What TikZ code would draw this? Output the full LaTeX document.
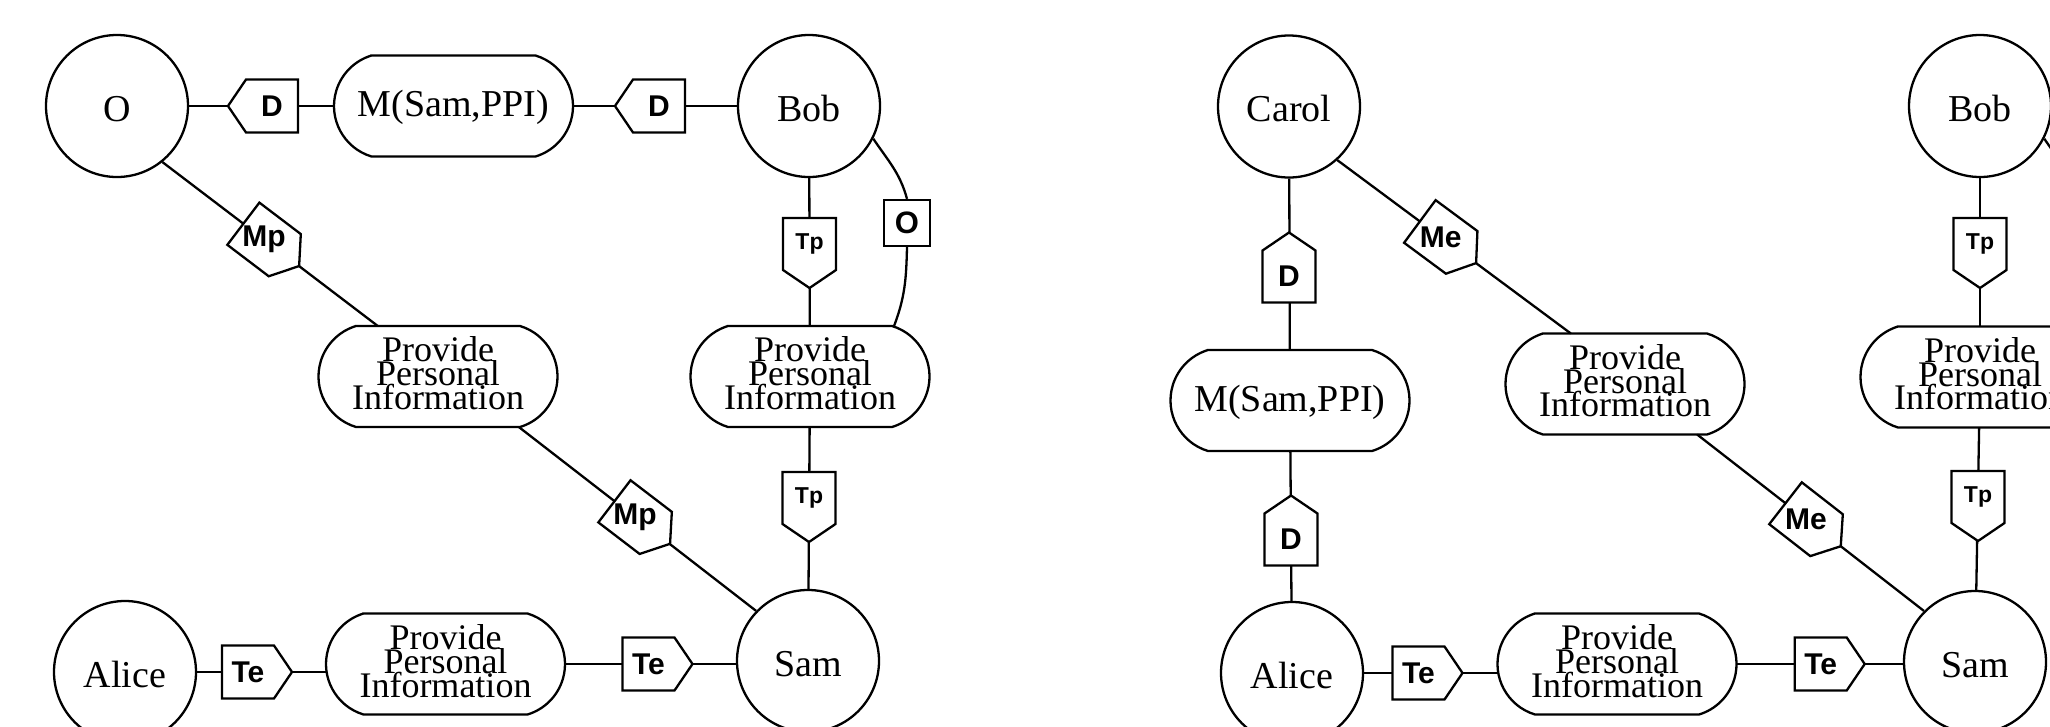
\documentclass[tikz,border=0pt]{standalone}
\usepackage{fontspec}
\setmainfont{Liberation Serif}
\setsansfont{Liberation Sans}
\usetikzlibrary{calc}
\setlength{\lineskiplimit}{-100pt}
\newcommand\tpfont{\fontsize{23}{23}\selectfont}
\tikzset{
  lw/.style={line width=2.3pt},
  conn/.style={lw},
  actor/.style={circle, draw, lw, minimum size=142pt, inner sep=0pt,
    text height=30pt, text depth=0pt, font=\fontsize{38}{40}\selectfont},
  pbox/.style={rectangle, minimum width=239pt, minimum height=101pt,
    inner sep=0pt, outer sep=0pt, align=center},
  ptext/.style={pbox, font=\fontsize{36}{23.8}\selectfont, text depth=6.6pt},
  mtext/.style={pbox, font=\fontsize{38}{40}\selectfont, text height=30pt, text depth=8.2pt},
  boxline/.style={lw},
  tagline/.style={lw, fill=white, line join=miter},
  taglabel/.style={inner sep=0pt, font=\sffamily\bfseries\fontsize{30}{30}\selectfont},
  osq/.style={rectangle, draw, lw, fill=white, minimum size=46pt, inner sep=0pt,
    font=\sffamily\bfseries\fontsize{31}{31}\selectfont},
}
% tag: [angle]{name}{position}{text}
\newcommand\tagnode[4][0]{%
  \draw[tagline, shift={#3}, rotate=#1] (-26,-26.5) -- (26,-26.5) -- (44,0)
    -- (26,26.5) -- (-26,26.5) -- cycle;
  \node[taglabel] (#2) at #3 {#4};
}
\newcommand\boxoutline[1]{%
  \draw[boxline] ($(#1.north west)+(37.5,0)$) -- ($(#1.north east)+(-37.5,0)$)
    arc[start angle=73.2, end angle=-73.2, radius=52.75pt]
    -- ($(#1.south west)+(37.5,0)$)
    arc[start angle=253.2, end angle=106.8, radius=52.75pt] -- cycle;}

\begin{document}
\begin{tikzpicture}[x=1pt, y=1pt]
\useasboundingbox (0,0) rectangle (2050,-726);
\clip (0,0) rectangle (2050,-726);

% ---------------- left panel ----------------
\node[actor] (O) at (117,-106) {O};
\node[mtext] (M) at (453.5,-106) {M(Sam,PPI)};
\node[actor] (Bob) at (809,-106) {Bob};
\node[ptext] (PL) at (438,-376.5) {Provide\\Personal\\Information};
\node[ptext] (PR) at (810,-376.5) {Provide\\Personal\\Information};
\node[actor] (Alice) at (125,-672) {Alice};
\node[ptext] (PB) at (445.5,-664) {Provide\\Personal\\Information};
\node[actor] (Sam) at (808,-661) {Sam};
\node[osq] (Osq) at (907,-223) {O};
\boxoutline{M}
\boxoutline{PL}
\boxoutline{PR}
\boxoutline{PB}

\draw[conn] (O) -- (M);
\draw[conn] (M) -- (Bob);
\draw[conn] (O.-51.3) -- (PL.140.6);
\draw[conn] (PL.-32.6) -- (Sam.136.6);
\draw[conn] (Bob) -- (PR);
\draw[conn] (PR) -- (Sam);
\draw[conn] (Bob.-27) to[out=-56, in=105.2] (Osq.north);
\draw[conn] (Osq.south) to[out=-91.4, in=69.2] (PR.31.7);
\draw[conn] (Alice) -- (PB.west |- Alice);
\draw[conn] (PB) -- (Sam.west |- PB);

\tagnode[180]{D1}{(272,-106)}{D}
\tagnode[180]{D2}{(659,-106)}{D}
\tagnode[-90]{Tp1}{(809.5,-244)}{\tpfont Tp}
\tagnode[-90]{Tp2}{(809,-498)}{\tpfont Tp}
\tagnode[-37.2]{Mp1}{($(O.-51.3)!0.472!(PL.140.6)$)}{Mp}
\tagnode[-37.4]{Mp2}{($(PL.-32.6)!0.49!(Sam.136.6)$)}{Mp}
\tagnode[0]{Te1}{(248,-672)}{Te}
\tagnode[0]{Te2}{(648.5,-664)}{Te}

% ---------------- right panel ----------------
\node[actor] (Carol) at (1289,-106.5) {Carol};
\node[mtext] (M2) at (1290,-400.5) {M(Sam,PPI)};
\node[actor] (Alice2) at (1292,-673) {Alice};
\node[ptext] (PM2) at (1625,-384) {Provide\\Personal\\Information};
\node[ptext] (PB2) at (1617,-664) {Provide\\Personal\\Information};
\node[actor] (Bob2) at (1980,-106) {Bob};
\node[ptext] (PR2) at (1980,-377) {Provide\\Personal\\Information};
\node[actor] (Sam2) at (1975,-662) {Sam};
\coordinate (q) at (2078,-199);
\boxoutline{M2}
\boxoutline{PM2}
\boxoutline{PB2}
\boxoutline{PR2}

\draw[conn] (Carol) -- (M2);
\draw[conn] (M2) -- (Alice2);
\draw[conn] (Carol.-48) -- (PM2.137);
\draw[conn] (PM2.-35.5) -- (Sam2.135.5);
\draw[conn] (Alice2) -- (PB2.west |- Alice2);
\draw[conn] (PB2) -- (Sam2.west |- PB2);
\draw[conn] (Bob2) -- (PR2);
\draw[conn] (PR2) -- (Sam2);
\draw[conn] (Bob2.-27) to[out=-56, in=105.2] (q);

\tagnode[90]{D3}{(1289,-276.5)}{D}
\tagnode[90]{D4}{(1291,-539.5)}{D}
\tagnode[-36.5]{Me1}{($(Carol.-48)!0.443!(PM2.137)$)}{Me}
\tagnode[-37.9]{Me2}{($(PM2.-35.5)!0.48!(Sam2.135.5)$)}{Me}
\tagnode[0]{Te3}{(1418.5,-673)}{Te}
\tagnode[0]{Te4}{(1820.7,-664)}{Te}
\tagnode[-90]{TpR1}{(1980,-244)}{\tpfont Tp}
\tagnode[-90]{TpR2}{(1978,-497)}{\tpfont Tp}
\end{tikzpicture}
\end{document}
